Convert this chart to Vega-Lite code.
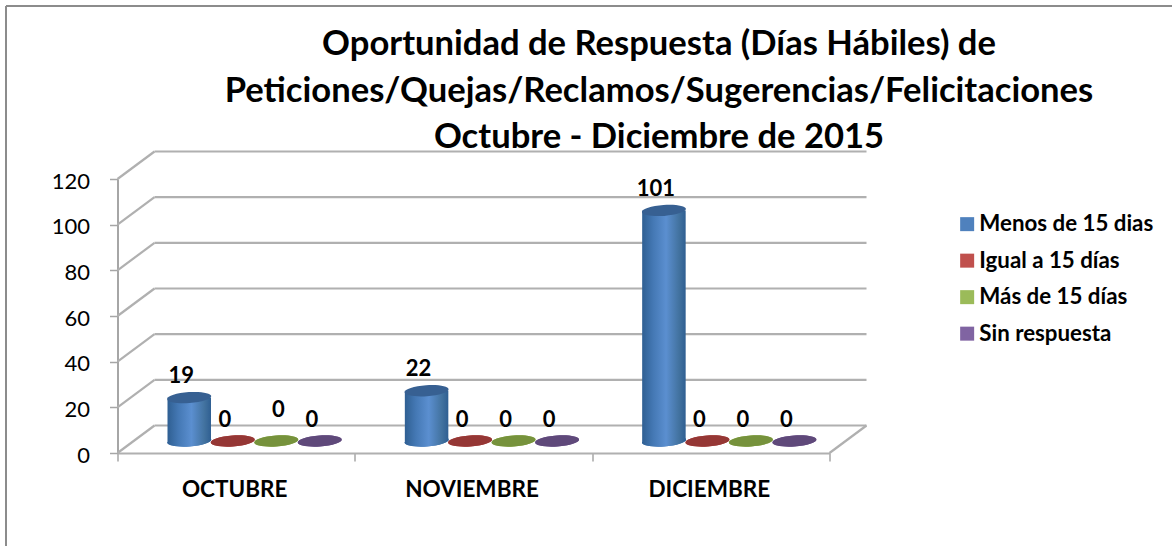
{
"$schema":"https://vega.github.io/schema/vega-lite/v6.json",
"width":712,"height":274,
"autosize":"none",
"padding":{"left":117.5,"top":179,"right":342.5,"bottom":93},
"background":"white",
"config":{"view":{"stroke":null},"font":"Lato"},
"title":{"text":["Oportunidad de Respuesta (Días Hábiles) de","Peticiones/Quejas/Reclamos/Sugerencias/Felicitaciones","Octubre - Diciembre de 2015"],"font":"Lato","fontWeight":"bold","fontSize":34.6,"lineHeight":46.5,"color":"#000000","anchor":"middle","dx":185.5,"offset":-151},
"datasets":{
"rows":[
{"mes":"OCTUBRE","serie":"Menos de 15 dias","valor":19},
{"mes":"OCTUBRE","serie":"Igual a 15 días","valor":0},
{"mes":"OCTUBRE","serie":"Más de 15 días","valor":0},
{"mes":"OCTUBRE","serie":"Sin respuesta","valor":0},
{"mes":"NOVIEMBRE","serie":"Menos de 15 dias","valor":22},
{"mes":"NOVIEMBRE","serie":"Igual a 15 días","valor":0},
{"mes":"NOVIEMBRE","serie":"Más de 15 días","valor":0},
{"mes":"NOVIEMBRE","serie":"Sin respuesta","valor":0},
{"mes":"DICIEMBRE","serie":"Menos de 15 dias","valor":101},
{"mes":"DICIEMBRE","serie":"Igual a 15 días","valor":0},
{"mes":"DICIEMBRE","serie":"Más de 15 días","valor":0},
{"mes":"DICIEMBRE","serie":"Sin respuesta","valor":0}
],
"niveles":[{"nivel":0},{"nivel":20},{"nivel":40},{"nivel":60},{"nivel":80},{"nivel":100},{"nivel":120}]
},
"resolve":{"scale":{"x":"independent","color":"independent"},"axis":{"x":"independent"}},
"layer":[
{"data":{"name":"niveles"},
 "mark":{"type":"rule","color":"#b0b0b0","strokeWidth":2.2,"xOffset":37,"x2Offset":37,"yOffset":-27.5},
 "encoding":{
  "x":{"datum":0,"type":"quantitative","scale":{"domain":[0,3],"nice":false,"zero":false},"axis":null},
  "x2":{"datum":3},
  "y":{"field":"nivel","type":"quantitative","scale":{"domain":[0,120],"nice":false},
   "axis":{"title":null,"values":[0,20,40,60,80,100,120],"grid":false,"domainColor":"#a6a6a6","domainWidth":2,"tickColor":"#a6a6a6","tickWidth":1.5,"tickSize":8,"labelPadding":20,"labelOffset":2,"labelFont":"Lato","labelFontSize":22,"labelColor":"#000000"}}
 }},
{"data":{"name":"niveles"},
 "mark":{"type":"rule","color":"#b0b0b0","strokeWidth":2.2,"x2Offset":37,"y2Offset":-27.5},
 "encoding":{
  "x":{"datum":0,"type":"quantitative","scale":{"domain":[0,3],"nice":false,"zero":false},"axis":null},
  "x2":{"datum":0},
  "y":{"field":"nivel","type":"quantitative"},
  "y2":{"field":"nivel"}
 }},
{"data":{"values":[{"nivel":0}]},
 "mark":{"type":"rule","color":"#b0b0b0","strokeWidth":2.2,"x2Offset":37,"y2Offset":-27.5},
 "encoding":{
  "x":{"datum":3,"type":"quantitative","scale":{"domain":[0,3],"nice":false,"zero":false},"axis":null},
  "x2":{"datum":3},
  "y":{"field":"nivel","type":"quantitative"},
  "y2":{"field":"nivel"}
 }},
{"data":{"values":[{}]},
 "mark":{"type":"rule","color":"#8c8c8c","strokeWidth":2},
 "encoding":{
  "x":{"datum":-0.4698,"type":"quantitative","scale":{"domain":[0,3],"nice":false,"zero":false},"axis":null},
  "x2":{"datum":4.444},
  "y":{"datum":195.8,"type":"quantitative"}
 }},
{"data":{"values":[{}]},
 "mark":{"type":"rule","color":"#8c8c8c","strokeWidth":2},
 "encoding":{
  "x":{"datum":-0.4698,"type":"quantitative","scale":{"domain":[0,3],"nice":false,"zero":false},"axis":null},
  "y":{"datum":195.8,"type":"quantitative"},
  "y2":{"datum":-40.7}
 }},
{"data":{"name":"rows"},
 "mark":{"type":"point","filled":true,"opacity":1,"size":1936,"shape":"M-1,0.07A1,0.25,-4,1,1,1,-0.07A1,0.25,-4,1,1,-1,0.07Z","yOffset":-12},
 "encoding":{
  "x":{"field":"mes","type":"nominal","sort":null,"scale":{"paddingInner":0,"paddingOuter":0},
   "axis":{"title":null,"labelAngle":0,"tickBand":"extent","labelOffset":-2,"domainColor":"#b0b0b0","domainWidth":2.2,"tickColor":"#a6a6a6","tickWidth":1.5,"tickSize":8,"labelPadding":28,"labelFont":"Lato","labelFontWeight":"bold","labelFontSize":22.5,"labelColor":"#000000","labelBaseline":"middle"}},
  "xOffset":{"field":"serie","type":"nominal","sort":null,"scale":{"type":"band","range":[50,224],"paddingInner":0,"paddingOuter":0}},
  "y":{"datum":0,"type":"quantitative"},
  "color":{"field":"serie","type":"nominal","sort":null,
   "scale":{"domain":["Menos de 15 dias","Igual a 15 días","Más de 15 días","Sin respuesta"],"range":["#4f81bd","#c0504d","#9bbb59","#8064a2"]},
   "legend":{"title":null,"orient":"none","legendX":838.5,"legendY":34,"symbolType":"square","symbolSize":196,"symbolOpacity":1,"symbolStrokeWidth":0,"labelFont":"Lato","labelFontWeight":"bold","labelFontSize":22.3,"labelColor":"#000000","labelLimit":260,"labelOffset":1,"rowPadding":13.5}}
 }},
{"data":{"name":"rows"},
 "transform":[{"filter":"datum.valor > 0"}],
 "mark":{"type":"point","filled":true,"opacity":1,"size":1936,"shape":"M-1,0.07A1,0.25,-4,1,1,1,-0.07A1,0.25,-4,1,1,-1,0.07Z","yOffset":-12,"color":{"gradient":"linear","x1":0,"x2":1,"y1":0,"y2":0,"stops":[{"offset":0,"color":"#2f5f92"},{"offset":0.25,"color":"#4478b4"},{"offset":0.55,"color":"#5b8fd0"},{"offset":0.85,"color":"#42729f"},{"offset":1,"color":"#2f5f92"}]}},
 "encoding":{
  "x":{"field":"mes","type":"nominal","sort":["OCTUBRE","NOVIEMBRE","DICIEMBRE"],"scale":{"paddingInner":0,"paddingOuter":0},"axis":null},
  "xOffset":{"field":"serie","type":"nominal","scale":{"type":"band","domain":["Menos de 15 dias","Igual a 15 días","Más de 15 días","Sin respuesta"],"range":[50,224],"paddingInner":0,"paddingOuter":0}},
  "y":{"datum":0,"type":"quantitative"}
 }},
{"data":{"name":"rows"},
 "transform":[{"filter":"datum.valor > 0"}],
 "mark":{"type":"bar","yOffset":-12,"y2Offset":-12,"color":{"gradient":"linear","x1":0,"x2":1,"y1":0,"y2":0,"stops":[{"offset":0,"color":"#2f5f92"},{"offset":0.25,"color":"#4478b4"},{"offset":0.55,"color":"#5b8fd0"},{"offset":0.85,"color":"#42729f"},{"offset":1,"color":"#2f5f92"}]}},
 "encoding":{
  "x":{"field":"mes","type":"nominal","sort":["OCTUBRE","NOVIEMBRE","DICIEMBRE"],"scale":{"paddingInner":0,"paddingOuter":0},"axis":null},
  "xOffset":{"field":"serie","type":"nominal","scale":{"type":"band","domain":["Menos de 15 dias","Igual a 15 días","Más de 15 días","Sin respuesta"],"range":[50,224],"paddingInner":0,"paddingOuter":0}},
  "y":{"field":"valor","type":"quantitative"},
  "y2":{"datum":0}
 }},
{"data":{"name":"rows"},
 "mark":{"type":"point","filled":true,"opacity":1,"size":1936,"shape":"M-1,0.07A1,0.25,-4,1,1,1,-0.07A1,0.25,-4,1,1,-1,0.07Z","yOffset":-12},
 "encoding":{
  "x":{"field":"mes","type":"nominal","sort":["OCTUBRE","NOVIEMBRE","DICIEMBRE"],"scale":{"paddingInner":0,"paddingOuter":0},"axis":null},
  "xOffset":{"field":"serie","type":"nominal","scale":{"type":"band","domain":["Menos de 15 dias","Igual a 15 días","Más de 15 días","Sin respuesta"],"range":[50,224],"paddingInner":0,"paddingOuter":0}},
  "y":{"field":"valor","type":"quantitative"},
  "color":{"field":"serie","type":"nominal","scale":{"domain":["Menos de 15 dias","Igual a 15 días","Más de 15 días","Sin respuesta"],"range":["#376092","#953735","#76923c","#5f497a"]},"legend":null}
 }},
{"data":{"name":"rows"},
 "transform":[{"filter":"!(datum.mes === 'OCTUBRE' && datum.serie === 'Más de 15 días')"}],
 "mark":{"type":"text","font":"Lato","fontWeight":"bold","fontSize":22,"color":"#000000","baseline":"middle","dx":-8,"yOffset":-33.5},
 "encoding":{
  "x":{"field":"mes","type":"nominal","sort":["OCTUBRE","NOVIEMBRE","DICIEMBRE"],"scale":{"paddingInner":0,"paddingOuter":0},"axis":null},
  "xOffset":{"field":"serie","type":"nominal","scale":{"type":"band","domain":["Menos de 15 dias","Igual a 15 días","Más de 15 días","Sin respuesta"],"range":[50,224],"paddingInner":0,"paddingOuter":0}},
  "y":{"field":"valor","type":"quantitative"},
  "text":{"field":"valor","type":"quantitative"}
 }},
{"data":{"name":"rows"},
 "transform":[{"filter":"datum.mes === 'OCTUBRE' && datum.serie === 'Más de 15 días'"}],
 "mark":{"type":"text","font":"Lato","fontWeight":"bold","fontSize":22,"color":"#000000","baseline":"middle","dx":2,"yOffset":-43},
 "encoding":{
  "x":{"field":"mes","type":"nominal","scale":{"domain":["OCTUBRE","NOVIEMBRE","DICIEMBRE"],"paddingInner":0,"paddingOuter":0},"axis":null},
  "xOffset":{"field":"serie","type":"nominal","scale":{"type":"band","domain":["Menos de 15 dias","Igual a 15 días","Más de 15 días","Sin respuesta"],"range":[50,224],"paddingInner":0,"paddingOuter":0}},
  "y":{"field":"valor","type":"quantitative"},
  "text":{"field":"valor","type":"quantitative"}
 }}
]
}
